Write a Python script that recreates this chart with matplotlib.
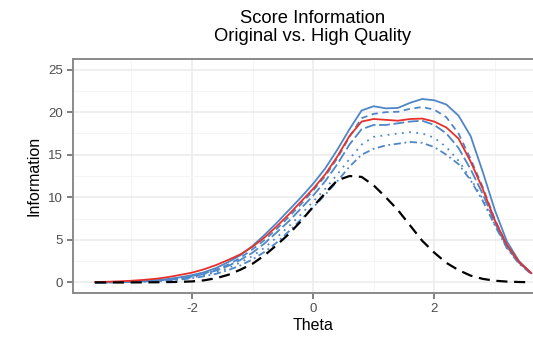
import numpy as np
import matplotlib
matplotlib.use('Agg')
from matplotlib import pyplot as plt
from matplotlib.ticker import MultipleLocator

plt.rcParams['font.family'] = ['Liberation Sans', 'DejaVu Sans']
plt.rcParams['axes.unicode_minus'] = False

theta = [-3.6, -3.4, -3.2, -3.0, -2.8, -2.6, -2.4, -2.2, -2.0, -1.8, -1.6, -1.4,
         -1.2, -1.0, -0.8, -0.6, -0.4, -0.2, 0.0, 0.2, 0.4, 0.6, 0.8, 1.0,
         1.2, 1.4, 1.6, 1.8, 2.0, 2.2, 2.4, 2.6, 2.8, 3.0, 3.2, 3.4, 3.6]

# high quality forms (blue), their average (red), original form (black)
hq_solid = [0.0, 0.02, 0.05, 0.1, 0.16, 0.26, 0.4, 0.6, 0.85, 1.2, 1.7, 2.4,
            3.2, 4.3, 5.6, 7.0, 8.5, 10.0, 11.6, 13.4, 15.6, 18.0, 20.2, 20.7,
            20.45, 20.5, 21.1, 21.55, 21.4, 20.9, 19.6, 17.2, 13.0, 8.5, 4.8, 2.5, 1.1]
hq_dashed = [0.0, 0.02, 0.04, 0.08, 0.14, 0.22, 0.35, 0.52, 0.75, 1.05, 1.5, 2.1,
             2.9, 3.9, 5.0, 6.3, 7.7, 9.2, 10.8, 12.5, 14.6, 17.1, 19.3, 19.8,
             20.0, 20.05, 20.4, 20.6, 20.3, 19.4, 17.5, 14.5, 11.2, 7.4, 4.3, 2.4, 1.1]
hq_longdash = [0.0, 0.02, 0.04, 0.08, 0.13, 0.2, 0.32, 0.48, 0.7, 1.0, 1.4, 1.95,
               2.65, 3.5, 4.6, 5.9, 7.2, 8.7, 10.2, 11.9, 13.9, 16.2, 18.0, 18.5,
               18.5, 18.7, 18.9, 19.0, 18.5, 17.5, 15.8, 13.3, 10.4, 7.0, 4.2, 2.3, 1.05]
hq_dotted = [0.0, 0.01, 0.03, 0.06, 0.1, 0.16, 0.26, 0.4, 0.58, 0.85, 1.2, 1.7,
             2.35, 3.1, 4.1, 5.3, 6.6, 8.0, 9.5, 11.0, 12.7, 14.5, 16.2, 17.1,
             17.3, 17.5, 17.65, 17.5, 17.0, 15.9, 14.3, 12.2, 9.8, 6.8, 4.1, 2.3, 1.05]
hq_dotdash = [0.0, 0.01, 0.02, 0.05, 0.08, 0.13, 0.21, 0.33, 0.5, 0.72, 1.02, 1.45,
              2.0, 2.7, 3.6, 4.7, 6.0, 7.4, 8.8, 10.3, 11.9, 13.6, 15.0, 15.7,
              16.1, 16.3, 16.5, 16.4, 15.9, 15.0, 13.9, 12.0, 9.6, 6.7, 4.0, 2.2, 1.0]
hq_mean = [0.05, 0.08, 0.13, 0.2, 0.3, 0.43, 0.62, 0.88, 1.15, 1.55, 2.05, 2.65,
           3.3, 4.2, 5.3, 6.6, 8.0, 9.5, 11.0, 12.7, 14.8, 17.2, 18.9, 19.2,
           19.1, 19.0, 19.2, 19.25, 18.9, 18.2, 16.9, 14.2, 11.0, 7.3, 4.4, 2.4, 1.1]
original = [0.0, 0.0, 0.0, 0.0, 0.01, 0.02, 0.04, 0.07, 0.12, 0.25, 0.5, 0.9,
            1.5, 2.2, 3.2, 4.4, 5.7, 7.2, 8.9, 10.5, 12.0, 12.5, 12.4, 11.4,
            10.0, 8.5, 6.7, 4.9, 3.5, 2.3, 1.45, 0.8, 0.42, 0.2, 0.1, 0.05, 0.02]

blue = '#4f86c6'
styles = [(hq_dotdash, (0, (1, 2, 4, 2))),
          (hq_dotted, (0, (1, 3))),
          (hq_longdash, (0, (6, 2))),
          (hq_dashed, (0, (3.5, 2.5))),
          (hq_solid, '-')]

fig = plt.figure(figsize=(5.33, 3.40), dpi=100)
ax = fig.add_axes([0.1375, 0.138, 0.90, 0.6885])

for vals, ls in styles:
    ax.plot(theta, vals, color=blue, lw=1.3, linestyle=ls)
ax.plot(theta, hq_mean, color='#e8302a', lw=1.3)
ax.plot(theta, original, color='black', lw=1.6, linestyle=(0, (5, 3)))

ax.set_xlim(-3.96, 3.96)
ax.set_ylim(-1.25, 26.25)
ax.xaxis.set_major_locator(MultipleLocator(2))
ax.xaxis.set_minor_locator(MultipleLocator(1))
ax.yaxis.set_major_locator(MultipleLocator(5))
ax.yaxis.set_minor_locator(MultipleLocator(2.5))
ax.grid(which='major', color='#ebebeb', lw=1.1)
ax.grid(which='minor', color='#f4f4f4', lw=0.6)
ax.set_axisbelow(True)

for side in ['top', 'right', 'left', 'bottom']:
    ax.spines[side].set_color('#8a8a8a')
    ax.spines[side].set_linewidth(1.4)
ax.tick_params(which='major', length=4, width=1.2, color='#6a6a6a',
               labelcolor='#4d4d4d', labelsize=9.5)
ax.tick_params(which='minor', length=0)

ax.set_xlabel('Theta', fontsize=11.5, labelpad=2)
ax.set_ylabel('Information', fontsize=11.5, labelpad=5)
fig.text(0.587, 0.919, 'Score Information\nOriginal vs. High Quality',
         ha='center', va='center', fontsize=13.2, linespacing=1.12)

fig.savefig('out.png', dpi=100)
